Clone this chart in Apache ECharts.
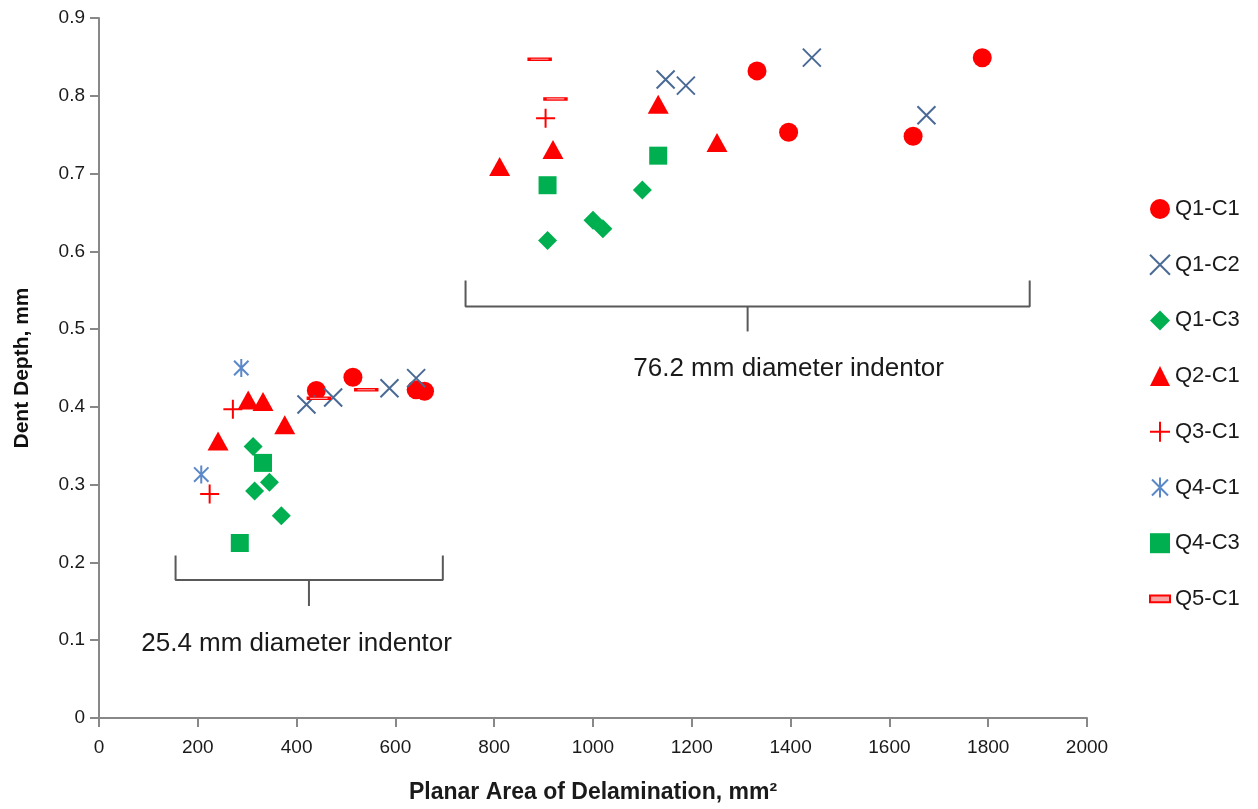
<!DOCTYPE html>
<html>
<head>
<meta charset="utf-8">
<script src="https://cdn.jsdelivr.net/npm/echarts@6/dist/echarts.min.js"></script>
<style>
html,body{margin:0;padding:0;background:#fff;}
#chart{width:1258px;height:809px;}
</style>
</head>
<body>
<div id="chart"></div>
<script>
// ---- data (x = planar area of delamination mm^2, y = dent depth mm) ----
const seriesNames = ['Q1-C1','Q1-C2','Q1-C3','Q2-C1','Q3-C1','Q4-C1','Q4-C3','Q5-C1'];
const q1c1 = [[440,0.421],[514,0.438],[642,0.422],[659,0.420],[1332,0.832],[1396,0.753],[1648,0.748],[1788,0.849]];
const q1c2 = [[420,0.403],[474,0.412],[588,0.424],[642,0.437],[1147,0.821],[1188,0.813],[1443,0.849],[1675,0.775]];
const q1c3 = [[312,0.349],[345,0.303],[315,0.292],[369,0.260],[908,0.614],[1000,0.640],[1020,0.629],[1100,0.679]];
const q2c1 = [[302,0.409],[332,0.407],[376,0.377],[241,0.356],[811,0.709],[919,0.731],[1132,0.789],[1251,0.740]];
const q3c1 = [[271,0.397],[224,0.288],[904,0.771]];
const q4c1 = [[288,0.450],[207,0.313]];
const q4c3 = [[332,0.328],[285,0.225],[908,0.685],[1132,0.723]];
const q5c1 = [[445,0.411],[541,0.422],[892,0.847],[924,0.796]];

// annotation brackets (data coordinates)
const bracket1 = [[155,0.209],[155,0.1775],[696,0.1775],[696,0.209]];
const bracket1Tick = [[425,0.1775],[425,0.144]];
const bracket2 = [[742,0.5626],[742,0.529],[1884,0.529],[1884,0.5626]];
const bracket2Tick = [[1313,0.529],[1313,0.497]];
const annotationTexts = [
  {value:[400,0.095], text:'25.4 mm diameter indentor'},
  {value:[1396,0.449], text:'76.2 mm diameter indentor'}
];
const xTicks = {min:0, max:2000, interval:200};
const yTicks = {min:0, max:0.9, interval:0.1};

const FONT = '"Liberation Sans", Arial, sans-serif';
const RED = '#ff0000', GREEN = '#00b050', XBLUE = '#4a6a96', ABLUE = '#5b88c8';

const symX = 'path://M0,0 L10,10 M10,0 L0,10';
const symPlus = 'path://M5,0 L5,10 M0,5 L10,5';
const symAst = 'path://M1,1 L9,9 M9,1 L1,9 M5,0 L5,10';
const symDash = 'path://M0,0 L21,0 L21,7 L0,7 Z';

function scatter(name, data, symbol, size, style){
  style.opacity = 1;
  return {name, type:'scatter', data, symbol, symbolSize:size, symbolKeepAspect:true,
    itemStyle:style, emphasis:{disabled:true}, z:3};
}
function poly(data){
  return {type:'line', data, symbol:'none', silent:true,
    lineStyle:{color:'#595959', width:2}, z:2, animation:false};
}

const chart = echarts.init(document.getElementById('chart'), null, {renderer:'canvas'});
chart.setOption({
  animation:false,
  textStyle:{fontFamily:FONT},
  grid:{left:99, right:171, top:18, bottom:87, containLabel:false},
  xAxis:{type:'value', min:xTicks.min, max:xTicks.max, interval:xTicks.interval,
    name:'Planar Area of Delamination, mm²', nameLocation:'middle', nameGap:63,
    nameTextStyle:{fontFamily:FONT, fontSize:23, fontWeight:'bold', color:'#1a1a1a'},
    axisLine:{lineStyle:{color:'#888', width:2}},
    axisTick:{length:9, lineStyle:{color:'#888', width:2}},
    axisLabel:{fontFamily:FONT, fontSize:19, color:'#1a1a1a', margin:20, formatter:v=>String(v)},
    splitLine:{show:false}},
  yAxis:{type:'value', min:yTicks.min, max:yTicks.max, interval:yTicks.interval,
    name:'Dent Depth, mm', nameLocation:'middle', nameGap:66,
    nameTextStyle:{fontFamily:FONT, fontSize:21, fontWeight:'bold', color:'#111'},
    axisLine:{show:true, lineStyle:{color:'#888', width:2}},
    axisTick:{show:true, length:9, lineStyle:{color:'#888', width:2}},
    axisLabel:{fontFamily:FONT, fontSize:19, color:'#1a1a1a', margin:14,
      formatter:v=> (v===0?'0':v.toFixed(1))},
    splitLine:{show:false}},
  legend:{orient:'vertical', left:1144, top:193, itemWidth:20, itemHeight:20, itemGap:33.7,
    data:seriesNames,
    textStyle:{fontFamily:FONT, fontSize:22, color:'#1a1a1a'}},
  series:[
    scatter('Q1-C1', q1c1, 'circle', 19, {color:RED}),
    scatter('Q1-C2', q1c2, symX, 18, {color:'transparent', borderColor:XBLUE, borderWidth:2}),
    scatter('Q1-C3', q1c3, 'diamond', 19, {color:GREEN}),
    scatter('Q2-C1', q2c1, 'triangle', [21,19], {color:RED}),
    scatter('Q3-C1', q3c1, symPlus, 19, {color:'transparent', borderColor:RED, borderWidth:2}),
    scatter('Q4-C1', q4c1, symAst, 18, {color:'transparent', borderColor:ABLUE, borderWidth:2}),
    scatter('Q4-C3', q4c3, 'rect', 18, {color:GREEN}),
    scatter('Q5-C1', q5c1, symDash, [21,7], {color:'#f7a3a3', borderColor:RED, borderWidth:2}),
    poly(bracket1), poly(bracket1Tick), poly(bracket2), poly(bracket2Tick),
    {type:'scatter', silent:true, symbolSize:0, data:annotationTexts,
      itemStyle:{opacity:1},
      label:{show:true, position:'inside', formatter:p=>p.data.text,
        fontFamily:FONT, fontSize:26, color:'#1a1a1a', opacity:1}}
  ]
});
</script>
</body>
</html>
